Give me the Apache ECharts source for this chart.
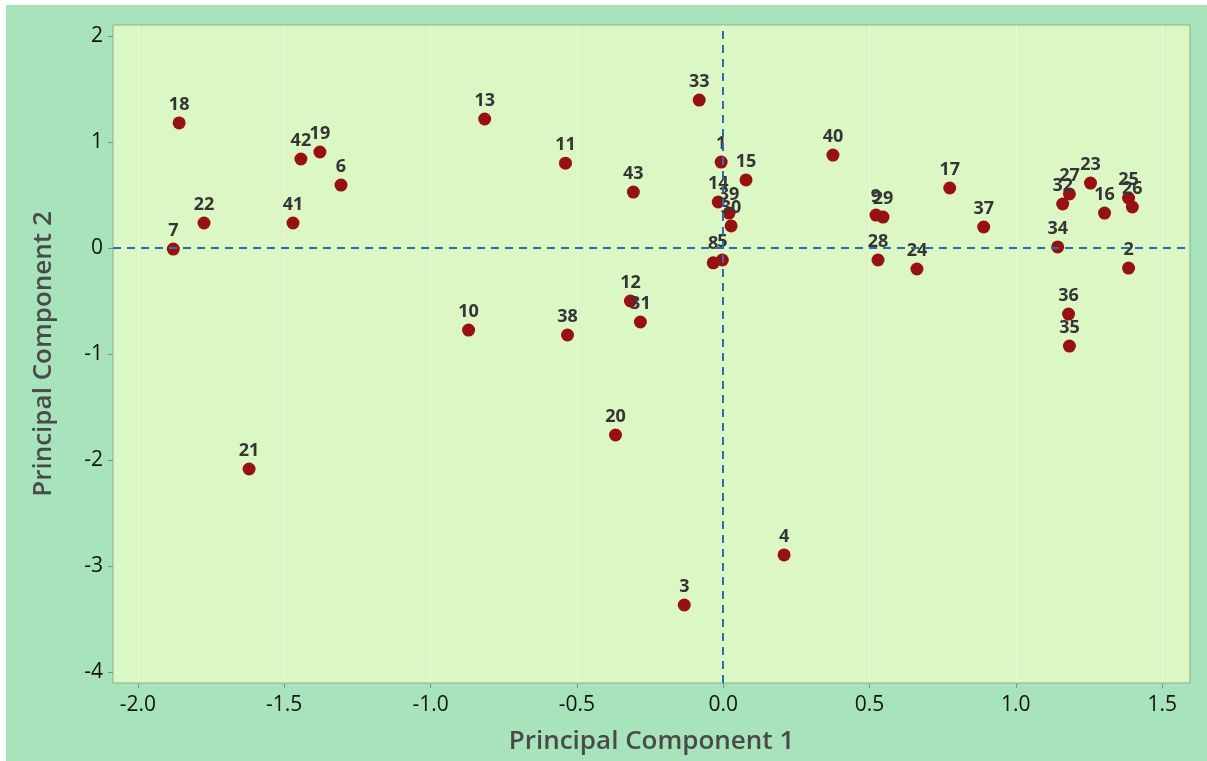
<!DOCTYPE html>
<html>
<head>
<meta charset="utf-8">
<script src="https://cdn.jsdelivr.net/npm/echarts@6/dist/echarts.min.js"></script>
<style>html,body{margin:0;padding:0;background:#fff}#c{width:1207px;height:761px}</style>
</head>
<body>
<div id="c"></div>
<script>
const ids = ['18','22','7','42','19','6','41','21','13','10','11','38','43','12','31','20','33','3','1','15','14','39','30','8','5','40','9','29','28','24','17','37','34','32','27','23','16','25','26','2','36','35','4'];
const pc1 = [-1.859,-1.774,-1.879,-1.443,-1.378,-1.306,-1.470,-1.620,-0.815,-0.870,-0.539,-0.532,-0.307,-0.317,-0.283,-0.368,-0.082,-0.133,-0.007,0.078,-0.017,0.020,0.027,-0.034,-0.003,0.375,0.522,0.546,0.529,0.662,0.774,0.890,1.143,1.160,1.183,1.255,1.303,1.385,1.398,1.385,1.180,1.183,0.208];
const pc2 = [1.18,0.236,-0.01,0.84,0.906,0.594,0.236,-2.085,1.217,-0.774,0.80,-0.821,0.528,-0.50,-0.698,-1.764,1.396,-3.368,0.811,0.642,0.434,0.33,0.208,-0.14,-0.113,0.877,0.311,0.292,-0.113,-0.198,0.566,0.198,0.01,0.415,0.51,0.613,0.33,0.472,0.387,-0.189,-0.623,-0.925,-2.896];
const xTicks = [-2.0,-1.5,-1.0,-0.5,0.0,0.5,1.0,1.5];
const yTicks = [-4,-3,-2,-1,0,1,2];

const data = ids.map((id,i)=>({name:id, value:[pc1[i], pc2[i]]}));
const chart = echarts.init(document.getElementById('c'), null, {renderer:'canvas'});
const font = '"Open Sans", "Noto Sans", sans-serif';
chart.setOption({
  backgroundColor:'#ffffff',
  animation:false,
  graphic:[{type:'rect', z:-10, shape:{x:6,y:5,width:1201,height:756}, style:{fill:'#a7e4bb'}}],
  grid:{left:113, right:17, top:25, bottom:78, show:true, backgroundColor:'#dbf7c4', borderColor:'#8fae92', borderWidth:1},
  xAxis:{type:'value', min:-2.085, max:1.595,
    name:'Principal Component 1', nameLocation:'middle', nameGap:46,
    nameTextStyle:{fontFamily:font, fontSize:26, fontWeight:600, color:'#4a4a4a'},
    axisLine:{show:false, onZero:false},
    axisTick:{show:true, length:5, lineStyle:{color:'#7a9a7f'}, customValues:xTicks},
    axisLabel:{fontFamily:font, fontSize:21, color:'#111', margin:12, customValues:xTicks, formatter:v=>v.toFixed(1)},
    splitLine:{show:true, lineStyle:{color:'#e9f8dc', width:1}}
  },
  yAxis:{type:'value', min:-4.104, max:2.104,
    name:'Principal Component 2', nameLocation:'middle', nameGap:56,
    nameTextStyle:{fontFamily:font, fontSize:26, fontWeight:600, color:'#4a4a4a'},
    axisLine:{show:false, onZero:false},
    axisTick:{show:true, length:5, lineStyle:{color:'#7a9a7f'}, customValues:yTicks},
    axisLabel:{fontFamily:font, fontSize:21, color:'#111', margin:10, customValues:yTicks, formatter:v=>String(Math.round(v))},
    splitLine:{show:false}
  },
  series:[{
    type:'scatter', data:data, symbolSize:13,
    itemStyle:{color:'#9a1010', opacity:1},
    label:{show:true, position:'top', distance:3, formatter:p=>p.name, fontFamily:font, fontWeight:'bold', fontSize:18, color:'#353535'},
    labelLayout:{hideOverlap:false},
    markLine:{silent:true, symbol:'none', label:{show:false},
      lineStyle:{color:'#2a6db5', type:[8,6], width:2},
      data:[{xAxis:0},{yAxis:0}]}
  }]
});
</script>
</body>
</html>
